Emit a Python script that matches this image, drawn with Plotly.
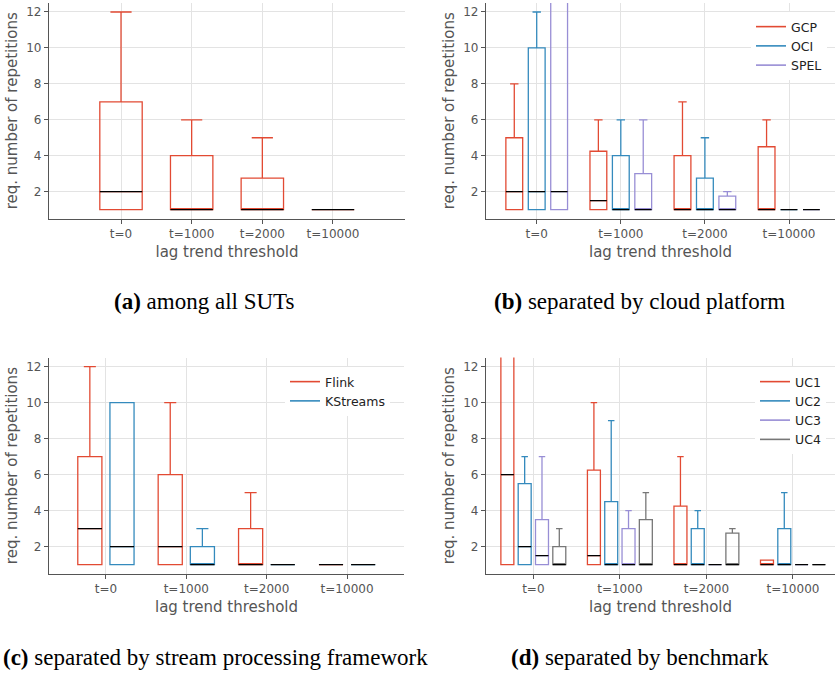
import plotly.graph_objects as go

# ---------------- data ----------------
thresholds = ["t=0", "t=1000", "t=2000", "t=10000"]
ytick_vals = [2, 4, 6, 8, 10, 12]

# (a) among all SUTs
all_q1 = [1, 1, 1, 1]
all_med = [2, 1, 1, 1]
all_q3 = [7, 4, 2.75, 1]
all_lo = [1, 1, 1, 1]
all_hi = [12, 6, 5, 1]

# (b) by cloud platform
gcp_q1 = [1, 1, 1, 1]
gcp_med = [2, 1.5, 1, 1]
gcp_q3 = [5, 4.25, 4, 4.5]
gcp_lo = [1, 1, 1, 1]
gcp_hi = [8, 6, 7, 6]

oci_q1 = [1, 1, 1, 1]
oci_med = [2, 1, 1, 1]
oci_q3 = [10, 4, 2.75, 1]
oci_lo = [1, 1, 1, 1]
oci_hi = [12, 6, 5, 1]

spel_q1 = [1, 1, 1, 1]
spel_med = [2, 1, 1, 1]
spel_q3 = [14, 3, 1.75, 1]
spel_lo = [1, 1, 1, 1]
spel_hi = [16, 6, 2, 1]

# (c) by stream processing framework
flink_q1 = [1, 1, 1, 1]
flink_med = [3, 2, 1, 1]
flink_q3 = [7, 6, 3, 1]
flink_lo = [1, 1, 1, 1]
flink_hi = [12, 10, 5, 1]

kstreams_q1 = [1, 1, 1, 1]
kstreams_med = [2, 1, 1, 1]
kstreams_q3 = [10, 2, 1, 1]
kstreams_lo = [1, 1, 1, 1]
kstreams_hi = [10, 3, 1, 1]

# (d) by benchmark
uc1_q1 = [1, 1, 1, 1]
uc1_med = [6, 1.5, 1, 1]
uc1_q3 = [14, 6.25, 4.25, 1.25]
uc1_lo = [1, 1, 1, 1]
uc1_hi = [16, 10, 7, 1.25]

uc2_q1 = [1, 1, 1, 1]
uc2_med = [2, 1, 1, 1]
uc2_q3 = [5.5, 4.5, 3, 3]
uc2_lo = [1, 1, 1, 1]
uc2_hi = [7, 9, 4, 5]

uc3_q1 = [1, 1, 1, 1]
uc3_med = [1.5, 1, 1, 1]
uc3_q3 = [3.5, 3, 1, 1]
uc3_lo = [1, 1, 1, 1]
uc3_hi = [7, 4, 1, 1]

uc4_q1 = [1, 1, 1, 1]
uc4_med = [1, 1, 1, 1]
uc4_q3 = [2, 3.5, 2.75, 1]
uc4_lo = [1, 1, 1, 1]
uc4_hi = [3, 5, 3, 1]

RED = "#E24A33"
BLUE = "#348ABD"
PURPLE = "#988ED5"
GRAY = "#777777"

# ---------------- figure ----------------
fig = go.Figure()


def add_series(ax, name, color, q1, med, q3, lo, hi, legend=None):
    xa = "x" if ax == 1 else f"x{ax}"
    ya = "y" if ax == 1 else f"y{ax}"
    common = dict(x=thresholds, xaxis=xa, yaxis=ya, alignmentgroup=f"g{ax}",
                  offsetgroup=f"{ax}-{name}", boxpoints=False, showlegend=False,
                  hoverinfo="skip", fillcolor="rgba(0,0,0,0)")
    fig.add_trace(go.Box(q1=q1, median=med, q3=q3, lowerfence=lo, upperfence=hi,
                         name=name, line=dict(color=color, width=1.3),
                         whiskerwidth=0.5, **common))
    # black median line
    fig.add_trace(go.Box(q1=med, median=med, q3=med, lowerfence=med, upperfence=med,
                         name=name + " median", line=dict(color="black", width=1.3),
                         whiskerwidth=0, **common))
    if legend:
        fig.add_trace(go.Scatter(x=[None], y=[None], mode="lines", name=name,
                                 line=dict(color=color, width=1.6), legend=legend,
                                 xaxis=xa, yaxis=ya, hoverinfo="skip"))


add_series(1, "all", RED, all_q1, all_med, all_q3, all_lo, all_hi)

add_series(2, "GCP", RED, gcp_q1, gcp_med, gcp_q3, gcp_lo, gcp_hi, "legend")
add_series(2, "OCI", BLUE, oci_q1, oci_med, oci_q3, oci_lo, oci_hi, "legend")
add_series(2, "SPEL", PURPLE, spel_q1, spel_med, spel_q3, spel_lo, spel_hi, "legend")

add_series(3, "Flink", RED, flink_q1, flink_med, flink_q3, flink_lo, flink_hi, "legend2")
add_series(3, "KStreams", BLUE, kstreams_q1, kstreams_med, kstreams_q3, kstreams_lo, kstreams_hi, "legend2")

add_series(4, "UC1", RED, uc1_q1, uc1_med, uc1_q3, uc1_lo, uc1_hi, "legend3")
add_series(4, "UC2", BLUE, uc2_q1, uc2_med, uc2_q3, uc2_lo, uc2_hi, "legend3")
add_series(4, "UC3", PURPLE, uc3_q1, uc3_med, uc3_q3, uc3_lo, uc3_hi, "legend3")
add_series(4, "UC4", GRAY, uc4_q1, uc4_med, uc4_q3, uc4_lo, uc4_hi, "legend3")

W, H = 835, 673


def px(x):
    return x / W


def py(y):
    return 1 - y / H


AX_COLOR = "#555555"
GRID = "#e3e3e3"
FONT = "DejaVu Sans"

xcommon = dict(type="category", categoryorder="array", categoryarray=thresholds,
               showgrid=True, gridcolor=GRID, gridwidth=1, showline=True,
               linecolor=AX_COLOR, linewidth=1.3, ticks="outside", ticklen=4,
               tickcolor=AX_COLOR, tickfont=dict(family=FONT, size=12, color=AX_COLOR),
               title=dict(text="lag trend threshold", standoff=6,
                          font=dict(family=FONT, size=15, color=AX_COLOR)),
               zeroline=False, fixedrange=True)
ycommon = dict(range=[0.5, 12.5], tickvals=ytick_vals, showgrid=True, gridcolor=GRID,
               gridwidth=1, showline=True, linecolor=AX_COLOR, linewidth=1.3,
               ticks="outside", ticklen=4, tickcolor=AX_COLOR,
               tickfont=dict(family=FONT, size=12, color=AX_COLOR),
               title=dict(text="req. number of repetitions", standoff=4,
                          font=dict(family=FONT, size=15, color=AX_COLOR)),
               zeroline=False, fixedrange=True)

top_dom = [py(218.6), py(3)]
bot_dom = [py(573.6), py(357.6)]

legend_common = dict(bgcolor="white", borderwidth=0, xanchor="left", yanchor="top",
                     font=dict(family=FONT, size=12.5, color="#222222"),
                     tracegroupgap=0)

fig.update_layout(
    width=W, height=H, autosize=False,
    margin=dict(l=0, r=0, t=0, b=0),
    paper_bgcolor="white", plot_bgcolor="white",
    boxmode="group", boxgap=0.2, boxgroupgap=0.25,
    xaxis=dict(domain=[px(49), px(405)], range=[-1.019, 4.019], anchor="y", **xcommon),
    yaxis=dict(domain=top_dom, anchor="x", **ycommon),
    xaxis2=dict(domain=[px(486), 1], range=[-0.603, 3.547], anchor="y2", **xcommon),
    yaxis2=dict(domain=top_dom, anchor="x2", **ycommon),
    xaxis3=dict(domain=[px(49), px(404)], range=[-0.708, 3.708], anchor="y3", **xcommon),
    yaxis3=dict(domain=bot_dom, anchor="x3", **ycommon),
    xaxis4=dict(domain=[px(486), 1], range=[-0.547, 3.486], anchor="y4", **xcommon),
    yaxis4=dict(domain=bot_dom, anchor="x4", **ycommon),
    legend=dict(x=px(751), y=py(12), **legend_common),
    legend2=dict(x=px(285), y=py(367), **legend_common),
    legend3=dict(x=px(755), y=py(367), **legend_common),
    showlegend=True,
)

CAP_FONT = dict(family="Liberation Serif", size=23, color="black")
captions = [
    ("<b>(a)</b> among all SUTs", 204, 301, "center"),
    ("<b>(b)</b> separated by cloud platform", 639, 301, "center"),
    ("<b>(c)</b> separated by stream processing framework", 1, 657, "left"),
    ("<b>(d)</b> separated by benchmark", 639.5, 657, "center"),
]
for text, cx, cy, anchor in captions:
    fig.add_annotation(text=text, x=px(cx), y=py(cy), xref="paper", yref="paper",
                       xanchor=anchor, yanchor="middle", showarrow=False,
                       font=CAP_FONT)

fig.write_html("out.html", config={"displayModeBar": False},
               post_script="document.body.style.margin='0';document.body.style.padding='0';")
